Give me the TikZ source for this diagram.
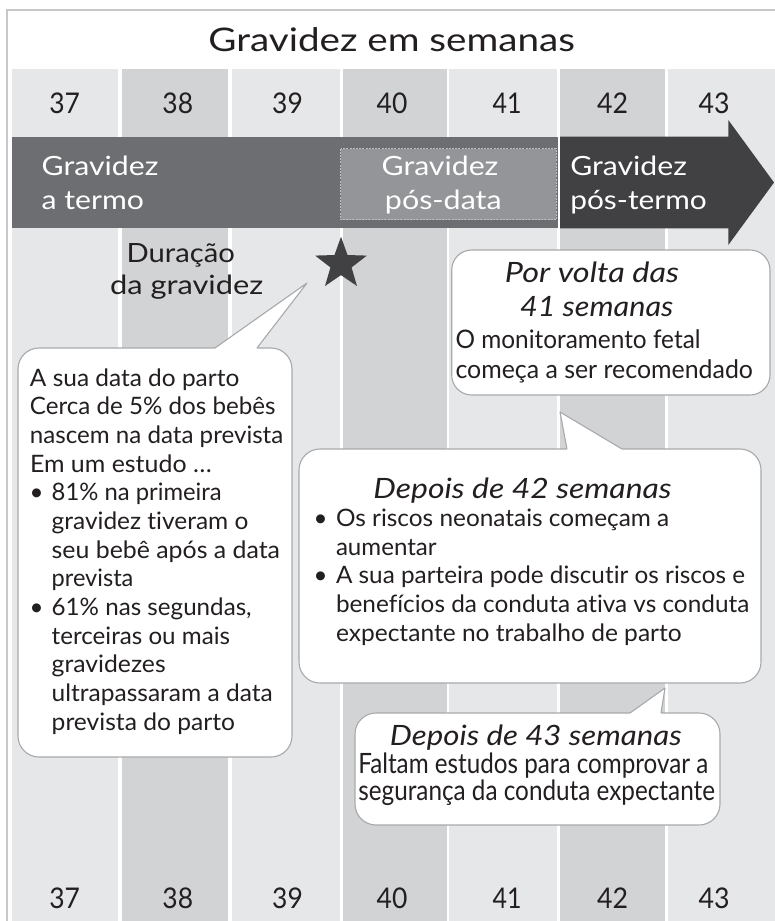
\documentclass[tikz,border=0pt]{standalone}
\usepackage{fontspec}
\usepackage{graphicx}
\setmainfont{Lato}
\newfontfamily\bodyfont{Lato}[Ligatures={NoCommon}]
\usetikzlibrary{shapes.geometric}
\definecolor{colA}{HTML}{E6E7E8}
\definecolor{colB}{HTML}{D1D3D4}
\definecolor{bandgray}{HTML}{6D6E71}
\definecolor{boxgray}{HTML}{939598}
\definecolor{dashgray}{HTML}{BCBEC0}
\definecolor{darkband}{HTML}{414042}
\definecolor{ink}{HTML}{231F20}
\definecolor{framegray}{HTML}{C7C8CA}
\definecolor{callline}{HTML}{A7A9AC}
\newcommand\fw[2]{\resizebox{#1pt}{\height}{#2}}
\tikzset{
  lbl/.style={inner sep=0, outer sep=0, text=ink},
  body/.style={lbl, anchor=base west, font=\bodyfont\fontsize{24}{28}\selectfont},
  bodyb/.style={lbl, anchor=base west, font=\bodyfont\fontsize{25.5}{28}\selectfont},
  bodyc/.style={lbl, anchor=base west, font=\bodyfont\fontsize{28}{30}\selectfont},
  bul/.style={lbl, anchor=base, font=\bodyfont\fontsize{24}{28}\selectfont},
  head/.style={lbl, anchor=base, font=\bodyfont\itshape\fontsize{28}{32}\selectfont},
  weeknum/.style={lbl, anchor=base, font=\bodyfont\fontsize{28.5}{32}\selectfont},
  bandtxt/.style={lbl, anchor=base west, text=white, font=\bodyfont\fontsize{26.5}{30}\selectfont},
  durtxt/.style={lbl, anchor=base, font=\bodyfont\fontsize{26.5}{30}\selectfont},
  calloutbox/.style={fill=white, draw=callline, line width=1.1pt, rounded corners=21pt},
  pointerfill/.style={fill=white},
  pointerline/.style={draw=callline, line width=1.1pt, line join=round},
}
\begin{document}
\begin{tikzpicture}[x=1pt,y=-1pt]
\useasboundingbox (0,0) rectangle (774,921);
\fill[white] (0,0) rectangle (774,921);
% frame
\draw[framegray, line width=2.5pt] (7,930) -- (7,10) -- (780,10);
% columns
\fill[colA] (11.7,69.3) rectangle (118.4,925);
\fill[colB] (121.7,69.3) rectangle (228.4,925);
\fill[colA] (232.2,69.3) rectangle (339.8,925);
\fill[colB] (343.3,69.3) rectangle (446.6,925);
\fill[colA] (449.4,69.3) rectangle (557.4,925);
\fill[colB] (560.2,69.3) rectangle (665.2,925);
\fill[colA] (668,69.3) rectangle (780,925);
% title
\node[lbl, anchor=base, font=\bodyfont\fontsize{32.5}{36}\selectfont] (title) at (391.7,51.7) {\fw{366.7}{Gravidez em semanas}};
% week numbers top
\node[weeknum] (t37) at (64.7,113.3) {\fw{30.7}{37}};
\node[weeknum] (t38) at (177.8,113.3) {\fw{30.7}{38}};
\node[weeknum] (t39) at (287.5,113.3) {\fw{30.7}{39}};
\node[weeknum] (t40) at (392,113.3) {\fw{30.7}{40}};
\node[weeknum] (t41) at (507,113.3) {\fw{29}{41}};
\node[weeknum] (t42) at (612.5,113.3) {\fw{31}{42}};
\node[weeknum] (t43) at (714,113.3) {\fw{31}{43}};
% week numbers bottom
\node[weeknum] (b37) at (64.7,908) {\fw{30.7}{37}};
\node[weeknum] (b38) at (177.8,908) {\fw{30.7}{38}};
\node[weeknum] (b39) at (287.5,908) {\fw{30.7}{39}};
\node[weeknum] (b40) at (392,908) {\fw{30.7}{40}};
\node[weeknum] (b41) at (507,908) {\fw{29}{41}};
\node[weeknum] (b42) at (612.5,908) {\fw{31}{42}};
\node[weeknum] (b43) at (714,908) {\fw{31}{43}};
% band
\fill[bandgray] (11.7,136.7) rectangle (558.2,228.3);
\fill[darkband] (560.2,136.7) -- (728.3,136.7) -- (728.3,120) -- (774,182.5) -- (728.3,245) -- (728.3,228.3) -- (560.2,228.3) -- cycle;
\draw[dashgray, fill=boxgray, dash pattern=on 2pt off 1.2pt, line width=1pt] (340.5,148.5) rectangle (556.3,219.8);
\node[bandtxt] (termo1) at (41.7,175.5) {\fw{116.7}{Gravidez}};
\node[bandtxt] (termo2) at (41.7,209.5) {\fw{102.3}{a termo}};
\node[bandtxt, anchor=base] (posdata1) at (440,175.5) {\fw{116.7}{Gravidez}};
\node[bandtxt, anchor=base] (posdata2) at (443.3,209.5) {\fw{116.7}{pós-data}};
\node[bandtxt] (posterm1) at (570.3,175.5) {\fw{116.7}{Gravidez}};
\node[bandtxt] (posterm2) at (570.3,209.5) {\fw{136.4}{pós-termo}};
% duration label
\node[durtxt] (dur1) at (180.8,262) {\fw{108.3}{Duração}};
\node[durtxt] (dur2) at (186.7,294.5) {\fw{153.3}{da gravidez}};
% star
\node[star, star points=5, star point ratio=2.45, minimum size=54.4pt, inner sep=0, fill=darkband] (star) at (341,264) {};

% ---------- callout 1
\coordinate (c1tip) at (307,283);
\coordinate (c1a) at (215,348);
\coordinate (c1b) at (257,348);
\path[calloutbox] (18,348) rectangle (292,757);
\fill[pointerfill] (c1a) -- (c1tip) -- (c1b) -- ([yshift=-2pt]c1b) -- ([yshift=-2pt]c1a) -- cycle;
\draw[pointerline] (c1a) -- (c1tip) -- (c1b);
\node[body] (c1l0) at (30,386) {\fw{209.3}{A sua data do parto}};
\node[body] (c1l1) at (30,414.7) {\fw{245.5}{Cerca de 5\% dos bebês}};
\node[body] (c1l2) at (30,443.3) {\fw{253.3}{nascem na data prevista}};
\node[body] (c1l3) at (30,472) {\fw{181.7}{Em um estudo …}};
\node[bul] (c1b1) at (36.7,500.7) {•};
\node[body] (c1l4) at (51.7,500.7) {\fw{170}{81\% na primeira}};
\node[body] (c1l5) at (51.7,529.3) {\fw{196.7}{gravidez tiveram o}};
\node[body] (c1l6) at (51.7,558) {\fw{228.3}{seu bebê após a data}};
\node[body] (c1l7) at (51.7,586.7) {\fw{81.7}{prevista}};
\node[bul] (c1b2) at (36.7,615.3) {•};
\node[body] (c1l8) at (51.7,615.3) {\fw{200}{61\% nas segundas,}};
\node[body] (c1l9) at (51.7,644) {\fw{178.3}{terceiras ou mais}};
\node[body] (c1l10) at (51.7,672.7) {\fw{114}{gravidezes}};
\node[body] (c1l11) at (51.7,701.3) {\fw{221}{ultrapassaram a data}};
\node[body] (c1l12) at (51.7,730) {\fw{183.3}{prevista do parto}};

% ---------- callout 2
\path[calloutbox, rounded corners=20pt] (451.7,250) rectangle (770,395);
\node[head] (c2h1) at (592,282.5) {\fw{174.3}{Por volta das}};
\node[head] (c2h2) at (596.7,316) {\fw{153.3}{41 semanas}};
\node[bodyb] (c2l1) at (455.5,348.5) {\fw{245}{O monitoramento fetal}};
\node[bodyb] (c2l2) at (455.5,378) {\fw{297.5}{começa a ser recomendado}};

% ---------- callout 3
\coordinate (c3tip) at (560,412);
\coordinate (c3a) at (567,449);
\coordinate (c3b) at (622,449);
\path[calloutbox] (299,449) rectangle (761,683);
\fill[pointerfill] (c3a) -- (c3tip) -- (c3b) -- ([yshift=-2pt]c3b) -- ([yshift=-2pt]c3a) -- cycle;
\draw[pointerline] (c3a) -- (c3tip) -- (c3b);
\node[head] (c3h) at (522.5,498) {\fw{298.3}{Depois de 42 semanas}};
\node[bul] (c3b1) at (320.7,526) {•};
\node[body] (c3l1) at (336,526) {\fw{333.3}{Os riscos neonatais começam a}};
\node[body] (c3l2) at (336,555) {\fw{100.7}{aumentar}};
\node[bul] (c3b2) at (320.7,583.7) {•};
\node[body] (c3l3) at (336,583.7) {\fw{409}{A sua parteira pode discutir os riscos e}};
\node[body] (c3l4) at (336,612.7) {\fw{413.3}{benefícios da conduta ativa vs conduta}};
\node[body] (c3l5) at (336,641.7) {\fw{345.7}{expectante no trabalho de parto}};

% ---------- callout 4
\coordinate (c4tip) at (665,688);
\coordinate (c4a) at (630,713);
\coordinate (c4b) at (661,713);
\path[calloutbox] (355,713) rectangle (720,825);
\fill[pointerfill] (c4a) -- (c4tip) -- (c4b) -- ([yshift=-2pt]c4b) -- ([yshift=-2pt]c4a) -- cycle;
\draw[pointerline] (c4a) -- (c4tip) -- (c4b);
\node[head] (c4h) at (535.8,745) {\fw{291.7}{Depois de 43 semanas}};
\node[bodyc] (c4l1) at (358.3,773) {\fw{350}{Faltam estudos para comprovar a}};
\node[bodyc] (c4l2) at (358.3,800) {\fw{356.7}{segurança da conduta expectante}};
\end{tikzpicture}
\end{document}
